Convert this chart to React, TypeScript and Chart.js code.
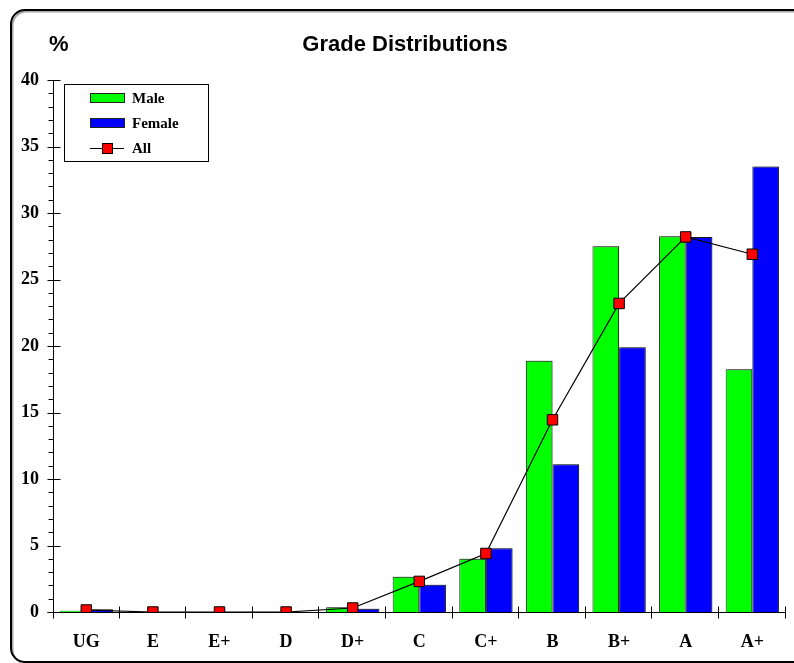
import React, { useEffect, useRef } from "react";
import { Chart, registerables } from "chart.js";

Chart.register(...registerables);

const categories = ["UG", "E", "E+", "D", "D+", "C", "C+", "B", "B+", "A", "A+"];
const maleValues = [0.1, 0, 0, 0, 0.35, 2.65, 4.0, 18.9, 27.5, 28.25, 18.25];
const femaleValues = [0.2, 0, 0, 0, 0.25, 2.05, 4.8, 11.1, 19.9, 28.2, 33.5];
const allValues = [0.15, 0, 0, 0, 0.3, 2.3, 4.4, 14.45, 23.2, 28.2, 26.9];
const yTickValues = [0, 5, 10, 15, 20, 25, 30, 35, 40];

const titleText = "Grade Distributions";
const unitText = "%";
const legendLabels = ["Male", "Female", "All"];

const SERIF = "'Liberation Serif', 'Times New Roman', serif";
const SANS = "'Liberation Sans', Arial, sans-serif";

const isBar = (chart: any, index: number) => {
  const ds = chart.data.datasets[index];
  return ds.type === "bar" || (!ds.type && chart.config.type === "bar");
};

const decorPlugin = {
  id: "decor",
  beforeDatasetDraw(chart: any, args: any) {
    if (isBar(chart, args.index)) {
      const ctx = chart.ctx;
      ctx.save();
      ctx.shadowColor = "rgba(0,0,0,0.28)";
      ctx.shadowOffsetX = 2;
      ctx.shadowOffsetY = -1;
      ctx.shadowBlur = 0;
    }
  },
  afterDatasetDraw(chart: any, args: any) {
    if (isBar(chart, args.index)) {
      chart.ctx.restore();
    }
  },
  afterDraw(chart: any) {
    const ctx = chart.ctx;
    const area = chart.chartArea;
    const xs = chart.scales.x;
    const ys = chart.scales.y;
    ctx.save();

    // frame
    ctx.strokeStyle = "rgba(0,0,0,0.35)";
    ctx.lineWidth = 2;
    ctx.beginPath();
    ctx.roundRect(12.5, 11.5, 800, 652, 14);
    ctx.stroke();
    ctx.strokeStyle = "#000";
    ctx.lineWidth = 2;
    ctx.beginPath();
    ctx.roundRect(11, 10, 800, 652, 14);
    ctx.stroke();

    // title and unit
    ctx.fillStyle = "#000";
    ctx.font = "bold 22px " + SANS;
    ctx.textBaseline = "alphabetic";
    ctx.textAlign = "center";
    ctx.fillText(titleText, 405, 51);
    ctx.textAlign = "left";
    ctx.fillText(unitText, 49, 51);

    // axes lines
    ctx.strokeStyle = "#000";
    ctx.lineWidth = 1;
    const ax = Math.round(area.left) + 0.5;
    const ay = Math.round(area.bottom) + 0.5;
    ctx.beginPath();
    ctx.moveTo(ax, area.top);
    ctx.lineTo(ax, ay + 6);
    ctx.moveTo(ax - 6, ay);
    ctx.lineTo(area.right, ay);
    ctx.stroke();

    // y ticks
    ctx.beginPath();
    for (let v = 0; v <= 40; v++) {
      const py = Math.round(ys.getPixelForValue(v)) + 0.5;
      if (v % 5 === 0) {
        ctx.moveTo(ax - 6, py);
        ctx.lineTo(ax + 7, py);
      } else {
        ctx.moveTo(ax - 5, py);
        ctx.lineTo(ax, py);
      }
    }
    // x ticks at category boundaries
    for (let i = 1; i <= categories.length; i++) {
      const px = Math.round(xs.getPixelForValue(i - 0.5)) - 0.5;
      ctx.moveTo(px, ay - 6);
      ctx.lineTo(px, ay + 6);
    }
    ctx.stroke();

    // legend
    const lx = 64.5, ly = 84.5, lw = 144, lh = 77;
    ctx.fillStyle = "#fff";
    ctx.fillRect(lx, ly, lw, lh);
    ctx.strokeStyle = "#000";
    ctx.lineWidth = 1;
    ctx.strokeRect(lx, ly, lw, lh);
    const ds = chart.data.datasets;
    const rows = [
      { ds: ds.find((d: any) => d.label === legendLabels[0]), y: 98 },
      { ds: ds.find((d: any) => d.label === legendLabels[1]), y: 123 },
      { ds: ds.find((d: any) => d.label === legendLabels[2]), y: 148 },
    ];
    ctx.font = "bold 15px " + SERIF;
    ctx.textAlign = "left";
    ctx.textBaseline = "alphabetic";
    rows.forEach((r) => {
      const d = r.ds;
      if (!d) return;
      if (d.type === "line") {
        ctx.strokeStyle = "#000";
        ctx.lineWidth = 1;
        ctx.beginPath();
        ctx.moveTo(90, r.y + 0.5);
        ctx.lineTo(124, r.y + 0.5);
        ctx.stroke();
        ctx.fillStyle = d.pointBackgroundColor;
        ctx.fillRect(102.5, r.y - 4.5, 10, 10);
        ctx.strokeRect(102.5, r.y - 4.5, 10, 10);
      } else {
        ctx.fillStyle = d.backgroundColor;
        ctx.fillRect(90.5, r.y - 4.5, 34, 9);
        ctx.strokeStyle = "#222";
        ctx.strokeRect(90.5, r.y - 4.5, 34, 9);
      }
      ctx.fillStyle = "#000";
      ctx.fillText(d.label, 132, r.y + 5);
    });

    ctx.restore();
  },
};

const zeroless = (c: any) => (c.raw === 0 ? 0 : 1);

export default function App() {
  const ref = useRef<HTMLCanvasElement | null>(null);

  useEffect(() => {
    document.body.style.margin = "0";
    const canvas = ref.current;
    if (!canvas) return;
    const chart = new Chart(canvas, {
      type: "bar",
      data: {
        labels: categories,
        datasets: [
          {
            type: "line",
            label: legendLabels[2],
            data: allValues,
            order: 0,
            borderColor: "#000",
            borderWidth: 1.2,
            pointStyle: "rect",
            pointRadius: 7.4,
            pointBackgroundColor: "#ff0000",
            pointBorderColor: "#000",
            pointBorderWidth: 1,
            fill: false,
            tension: 0,
          } as any,
          {
            type: "bar",
            label: legendLabels[0],
            data: maleValues,
            order: 1,
            backgroundColor: "#00ff00",
            borderColor: "#222",
            borderWidth: zeroless,
            categoryPercentage: 0.8,
            barPercentage: 1.0,
          } as any,
          {
            type: "bar",
            label: legendLabels[1],
            data: femaleValues,
            order: 1,
            backgroundColor: "#0000ff",
            borderColor: "#222",
            borderWidth: zeroless,
            categoryPercentage: 0.8,
            barPercentage: 1.0,
          } as any,
        ],
      },
      options: {
        responsive: false,
        animation: false,
        layout: { padding: { top: 80, right: 4, left: 0, bottom: 0 } },
        plugins: {
          legend: { display: false },
          title: { display: false },
          tooltip: { enabled: false },
        },
        scales: {
          x: {
            type: "category",
            offset: true,
            grid: { display: false, drawTicks: false, tickLength: 0 },
            border: { display: false },
            ticks: {
              color: "#000",
              font: { family: SERIF, size: 18, weight: "bold" },
              padding: 20,
              maxRotation: 0,
              autoSkip: false,
            },
            afterFit(scale: any) {
              scale.height = 51;
            },
          },
          y: {
            min: 0,
            max: 40,
            grid: { display: false, drawTicks: false, tickLength: 0 },
            border: { display: false },
            afterBuildTicks(scale: any) {
              scale.ticks = yTickValues.map((v) => ({ value: v }));
            },
            ticks: {
              color: "#000",
              font: { family: SERIF, size: 18, weight: "bold" },
              padding: 14,
            },
            afterFit(scale: any) {
              scale.width = 53;
            },
          },
        },
      },
      plugins: [decorPlugin],
    });
    return () => chart.destroy();
  }, []);

  return (
    <div style={{ width: 794, height: 663, position: "relative", background: "#fff" }}>
      <canvas ref={ref} width={794} height={663} style={{ display: "block" }} />
    </div>
  );
}
